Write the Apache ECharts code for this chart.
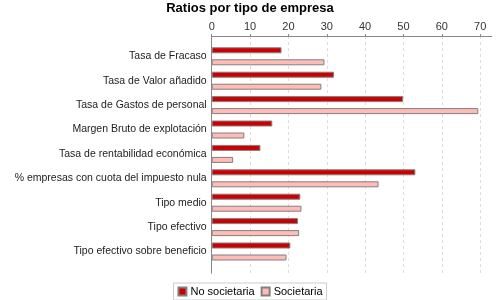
<!DOCTYPE html>
<html>
<head>
<meta charset="utf-8">
<script src="https://cdn.jsdelivr.net/npm/echarts@6/dist/echarts.min.js"></script>
<style>
html, body { margin: 0; padding: 0; background: #fff; }
#chart { width: 500px; height: 300px; }
</style>
</head>
<body>
<div id="chart"></div>
<script>
var categorias = [
    'Tasa de Fracaso',
    'Tasa de Valor añadido',
    'Tasa de Gastos de personal',
    'Margen Bruto de explotación',
    'Tasa de rentabilidad económica',
    '% empresas con cuota del impuesto nula',
    'Tipo medio',
    'Tipo efectivo',
    'Tipo efectivo sobre beneficio'
];
var noSocietaria = [18.2, 31.9, 49.9, 15.8, 12.7, 53.1, 23.1, 22.5, 20.5];
var societaria = [29.4, 28.6, 69.5, 8.5, 5.6, 43.5, 23.4, 22.8, 19.5];

var fuente = 'Liberation Sans';
var chart = echarts.init(document.getElementById('chart'));

var option = {
    animation: false,
    title: {
        text: 'Ratios por tipo de empresa',
        left: 'center',
        top: 0,
        padding: [2, 5],
        textStyle: { fontFamily: fuente, fontSize: 13, fontWeight: 'bold', color: '#000' }
    },
    legend: {
        data: ['No societaria', 'Societaria'],
        left: 'center',
        top: 283,
        icon: 'rect',
        itemWidth: 8,
        itemHeight: 8,
        itemGap: 6,
        padding: [3, 4],
        borderColor: '#ccc',
        borderWidth: 1,
        textStyle: { fontFamily: fuente, fontSize: 11, color: '#000', padding: [0, 0, 0, -1] }
    },
    grid: [
        { left: 211.7, right: 8.3, top: 36, bottom: 26.7 },
        { left: 211.7, right: 8.3, top: 44.1, bottom: 36.3 }
    ],
    xAxis: [
        {
            gridIndex: 0,
            type: 'value',
            position: 'top',
            min: 0,
            max: 73,
            interval: 10,
            axisLine: { show: true, lineStyle: { color: '#888' } },
            axisTick: { show: true, length: 2, lineStyle: { color: '#888' } },
            axisLabel: {
                fontFamily: fuente, fontSize: 11, color: '#333', margin: 4,
                showMaxLabel: false,
                formatter: function (v) { return v % 10 === 0 ? v : ''; }
            },
            splitLine: { show: true, showMaxLine: false, lineStyle: { color: '#ddd', type: [3, 3] } }
        },
        {
            gridIndex: 1,
            type: 'value',
            min: 0,
            max: 73,
            show: false
        }
    ],
    yAxis: [
        {
            gridIndex: 0,
            type: 'category',
            data: [],
            axisLine: { show: true, lineStyle: { color: '#888' } },
            axisTick: { show: false },
            axisLabel: { show: false }
        },
        {
            gridIndex: 1,
            type: 'category',
            inverse: true,
            data: categorias,
            axisLine: { show: false },
            axisTick: { show: false },
            axisLabel: { fontFamily: fuente, fontSize: 10.5, color: '#222', margin: 5 }
        }
    ],
    series: [
        {
            name: 'No societaria',
            type: 'bar',
            xAxisIndex: 1,
            yAxisIndex: 1,
            barWidth: 6,
            barGap: '100%',
            itemStyle: { color: '#cc0000', borderColor: '#808080', borderWidth: 1 },
            data: noSocietaria
        },
        {
            name: 'Societaria',
            type: 'bar',
            xAxisIndex: 1,
            yAxisIndex: 1,
            barWidth: 6,
            itemStyle: { color: '#ffbbb5', borderColor: '#808080', borderWidth: 1 },
            data: societaria
        }
    ]
};

chart.setOption(option);
</script>
</body>
</html>
